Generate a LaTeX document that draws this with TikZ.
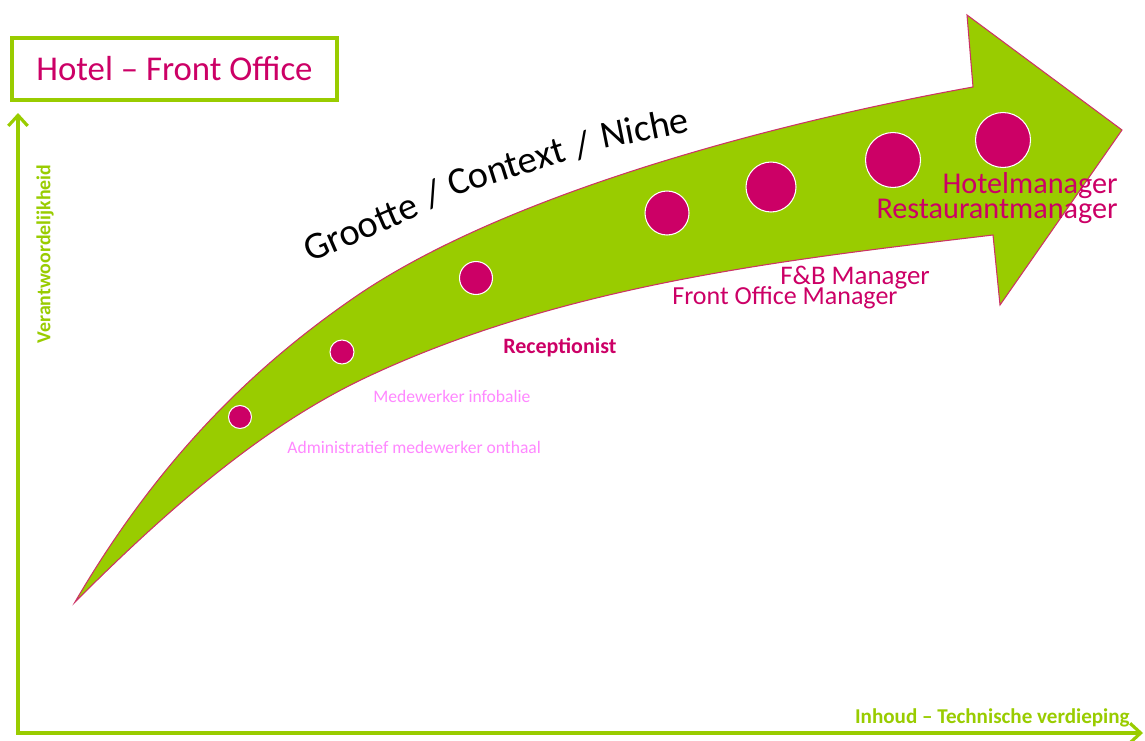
\documentclass[tikz,border=0pt]{standalone}
\usepackage{fontspec}
\setmainfont{Carlito}
\usepackage{tikz}
\usetikzlibrary{arrows.meta}
\definecolor{leaf}{HTML}{99CC00}
\definecolor{hotmag}{HTML}{CC0066}
\definecolor{softpink}{HTML}{FF88FF}
\definecolor{rim}{HTML}{CC3366}
\tikzstyle{dot} = [circle, fill=hotmag, draw=white, line width=0.6pt, inner sep=0pt]
\tikzstyle{role} = [inner sep=0pt, text=hotmag]
\tikzstyle{minor} = [inner sep=0pt, text=softpink, font=\fontsize{10}{12}\selectfont]
\tikzstyle{slogan} = [inner sep=0pt, anchor=base west, font=\fontsize{21.8}{26}\selectfont]
\tikzstyle{axis} = [draw=leaf, line width=1.8pt]
\tikzstyle{axislbl} = [inner sep=0pt, text=leaf]

\begin{document}
\begin{tikzpicture}[x=0.02cm, y=-0.02cm]
			\useasboundingbox (0,0) rectangle (1145,740);
			
			\coordinate (ytop) at (18,113);
			\coordinate (origin) at (18,733);
			\coordinate (xend) at (1143,733);
			\draw [axis, {Straight Barb[length=6pt, width=11pt]}-{Straight Barb[length=6pt, width=11pt]}] (ytop) -- (origin) -- (xend);
			
			\coordinate (tail) at (75,602);
			\coordinate (upnotch) at (973,87);
			\coordinate (headtop) at (967,15);
			\coordinate (tip) at (1122,130);
			\coordinate (headbot) at (1000,305);
			\coordinate (lownotch) at (993,235);
			\filldraw [fill=leaf, draw=rim, line width=0.6pt]
				(tail) .. controls (165,448) and (265,359) .. (355,297)
				.. controls (505,194) and (773,123) .. (upnotch)
				-- (headtop) -- (tip) -- (headbot) -- (lownotch)
				.. controls (793,259) and (567,283) .. (367,377)
				.. controls (267,424) and (175,502) .. (tail) -- cycle;
			
			\node [slogan, rotate=23.5] (w1) at (310,263) {Grootte};
			\node [slogan, rotate=20] (s1) at (430,209) {/};
			\node [slogan, rotate=17.5] (w2) at (452,197) {Context};
			\node [slogan, rotate=14] (s2) at (578,160) {/};
			\node [slogan, rotate=11.3] (w3) at (603,149) {Niche};
			
			\node [dot, minimum size=0.46cm] (admin) at (240,417) {};
			\node [dot, minimum size=0.48cm] (info) at (342,352) {};
			\node [dot, minimum size=0.66cm] (recep) at (476,278) {};
			\node [dot, minimum size=0.88cm] (fom) at (667,213) {};
			\node [dot, minimum size=1.0cm] (fb) at (771,187) {};
			\node [dot, minimum size=1.1cm] (rest) at (893,160) {};
			\node [dot, minimum size=1.1cm] (hotel) at (1003,140) {};
			
			\node [minor, anchor=west] (adminlbl) at (287,447) {Administratief medewerker onthaal};
			\node [minor, anchor=west] (infolbl) at (373,396) {Medewerker infobalie};
			\node [role, anchor=west, font=\bfseries\fontsize{12.5}{14}\selectfont] (receplbl) at (503,348) {Receptionist};
			\node [role, anchor=west, font=\fontsize{15.3}{18}\selectfont] (fblbl) at (780,278) {F\&B Manager};
			\node [role, anchor=west, font=\fontsize{14.8}{18}\selectfont] (fomlbl) at (672,298) {Front Office Manager};
			\node [role, anchor=east, font=\fontsize{17.2}{20}\selectfont] (hotellbl) at (1118,186) {Hotelmanager};
			\node [role, anchor=east, font=\fontsize{17.2}{20}\selectfont] (restlbl) at (1118,211) {Restaurantmanager};
			
			\node [draw=leaf, line width=1.8pt, text=hotmag, minimum width=6.5cm, minimum height=1.24cm, inner sep=0pt, font=\fontsize{19.8}{24}\selectfont] (title) at (174.5,69) {Hotel -- Front Office};
			
			\node [axislbl, anchor=east, font=\bfseries\fontsize{12}{14}\selectfont] (xlbl) at (1130,718) {Inhoud -- Technische verdieping};
			\node [axislbl, rotate=90, font=\bfseries\fontsize{11.3}{13}\selectfont] (ylbl) at (45,254) {Verantwoordelijkheid};
		\end{tikzpicture}
\end{document}
